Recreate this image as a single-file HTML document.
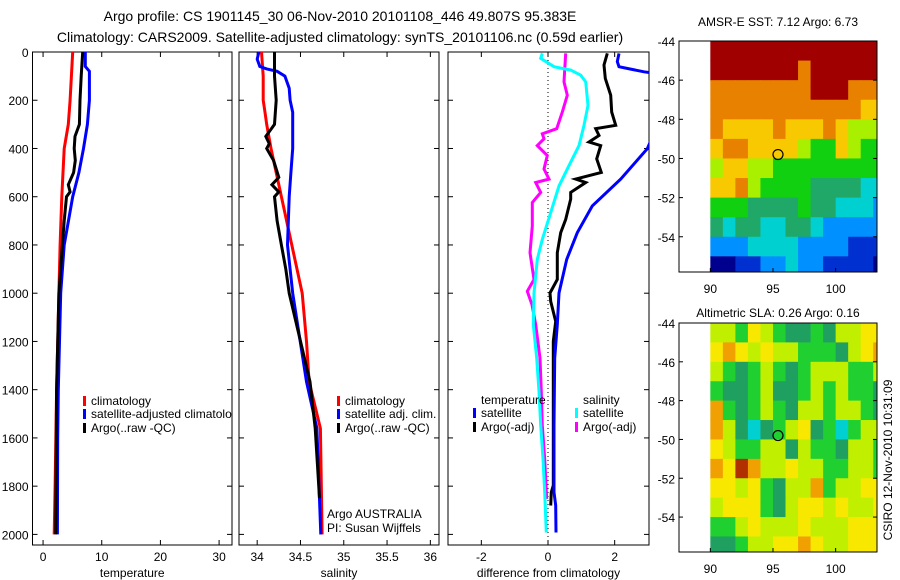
<!DOCTYPE html>
<html><head><meta charset="utf-8"><style>
html,body{margin:0;padding:0;background:#fff;}
svg{display:block;font-family:"Liberation Sans",sans-serif;}
</style></head><body>
<svg id="fig" width="900" height="580" viewBox="0 0 900 580">
<text x="340" y="21" font-size="14" text-anchor="middle">Argo profile: CS 1901145_30 06-Nov-2010 20101108_446 49.807S 95.383E</text>
<text x="340" y="42" font-size="14" text-anchor="middle">Climatology: CARS2009. Satellite-adjusted climatology: synTS_20101106.nc (0.59d earlier)</text>
<text x="778" y="26" font-size="12" text-anchor="middle">AMSR-E SST: 7.12 Argo: 6.73</text>
<text x="778" y="317" font-size="12" text-anchor="middle">Altimetric SLA: 0.26 Argo: 0.16</text>
<text transform="translate(892,460) rotate(-90)" font-size="12" text-anchor="middle">CSIRO 12-Nov-2010 10:31:09</text>
</svg>
<script>
// ---- profile data ----
const tClimDepth = [0,200,300,400,600,800,1000,1400,1800,2000];
const tClimVal   = [5.05,4.6,4.3,3.6,3.2,2.9,2.7,2.3,2.05,1.9];
const tSatDepth  = [0,60,80,200,300,400,500,600,800,1000,1400,1600,2000];
const tSatVal    = [7.2,7.2,7.9,7.9,7.55,6.9,6.1,5.05,3.6,3.0,2.6,2.5,2.45];
const tArgoDepth = [0,100,200,300,350,400,450,500,550,580,600,700,800,1000,1400,2000];
const tArgoVal   = [6.75,6.5,6.3,6.2,5.45,5.3,5.5,5.2,4.3,4.6,4.0,3.6,3.3,2.7,2.3,2.15];

const sClimDepth = [0,100,200,250,300,400,500,600,700,800,900,1000,1200,1367,1560,2000];
const sClimVal   = [34.05,34.07,34.07,34.09,34.11,34.16,34.22,34.28,34.34,34.4,34.46,34.52,34.57,34.6,34.73,34.75];
const sSatDepth  = [0,30,60,70,80,100,150,200,250,400,500,600,800,1000,1367,1560,2000];
const sSatVal    = [34.02,34.0,34.03,34.11,34.23,34.32,34.37,34.38,34.41,34.41,34.39,34.37,34.35,34.41,34.57,34.69,34.735];
const sArgoDepth = [0,100,200,300,350,380,400,450,520,550,580,600,700,800,900,1000,1367,1560,1850];
const sArgoVal   = [34.2,34.2,34.22,34.2,34.10,34.14,34.11,34.19,34.25,34.17,34.25,34.2,34.23,34.28,34.33,34.37,34.61,34.67,34.72];

const dTSatDepth = [6,40,61,71,82,90,150,250,330,401,527,638,749,860,999,1130,1269,1547,1825,1880,1992];
const dTSatVal   = [2.13,2.08,2.13,2.48,2.88,3.3,3.4,3.4,3.2,2.98,2.18,1.33,0.88,0.56,0.33,0.28,0.2,0.18,0.18,0.23,0.24];
const dTArgoDepth= [6,54,110,179,249,304,318,346,373,388,443,499,527,541,582,610,694,749,832,943,999,1034,1117,1200,1408,1797,1825,1880];
const dTArgoVal  = [1.78,1.68,1.72,1.88,1.91,2.03,1.43,1.53,1.23,1.58,1.46,1.6,0.83,1.13,0.68,0.68,0.53,0.38,0.28,0.28,0.06,0.08,0.23,0.16,0.16,0.16,0.1,0.08];
const dSSatDepth = [6,26,61,75,96,124,221,304,388,471,555,666,777,860,999,1130,1269,1408,1547,1686,1825,1992];
const dSSatVal   = [-0.17,-0.22,0.18,0.68,0.98,1.13,1.2,1.08,0.93,0.63,0.33,0.08,-0.17,-0.32,-0.42,-0.44,-0.34,-0.27,-0.22,-0.15,-0.1,-0.05];
const dSArgoDepth= [6,75,124,179,249,318,339,360,388,429,485,527,541,582,624,721,832,943,992,1048,1130,1269,1408,1547,1686,1853];
const dSArgoVal  = [0.53,0.5,0.48,0.58,0.43,0.26,-0.17,-0.12,-0.32,-0.02,-0.12,0.03,-0.37,-0.22,-0.47,-0.47,-0.54,-0.42,-0.62,-0.48,-0.37,-0.24,-0.2,-0.17,-0.1,-0.04];

// ---- map data (1-degree cells, 90..104E, -44..-56) ----
const mapLons = [90,91,92,93,94,95,96,97,98,99,100,101,102,103];
const mapLats = [-44,-45,-46,-47,-48,-49,-50,-51,-52,-53,-54,-55];
const sstGrid = [
 [9,9,9,9,9,9,9,9,9,9,9,9,9,9],
 [9,9,9,9,9,9,9,8,9,9,9,9,9,9],
 [8,8,8,8,8,8,8,8,9,9,9,8,8,8],
 [8,8,8,8,8,8,8,8,8,8,8,8,7,7],
 [8,7,7,7,7,8,7,7,7,8,7,6,6,6],
 [7,8,8,7,7,7,7,6,5,5,7,6,5,5],
 [6,7,7,6,6,5,5,5,5,5,5,5,5,5],
 [7,7,8,6,5,5,5,5,4,4,4,4,3,3],
 [5,5,5,4,4,4,4,5,4,4,3,3,3,2],
 [4,3,4,4,3,3,4,4,3,2,2,2,2,2],
 [2,2,2,3,3,3,3,2,2,2,2,1,1,1],
 [0,0,1,1,2,2,3,2,2,1,1,1,1,0]];
const slaGrid = [
 [6,6,5,7,6,5,4,4,5,4,6,6,7,7],
 [7,8,7,6,7,6,6,5,5,5,4,6,7,8],
 [6,5,4,5,6,5,4,5,6,6,6,5,5,6],
 [5,4,4,5,6,4,4,5,6,5,6,5,5,4],
 [8,5,4,5,6,5,4,6,6,5,6,6,5,4],
 [8,6,4,3,4,5,6,7,4,5,3,5,6,6],
 [7,6,5,5,6,6,4,6,5,5,4,6,6,5],
 [8,7,9,8,6,6,7,6,6,5,5,6,6,5],
 [7,7,6,7,5,4,6,6,8,5,6,6,7,7],
 [6,7,7,7,5,4,6,7,7,6,7,6,6,7],
 [5,5,6,7,6,6,6,7,6,6,6,7,7,7],
 [4,4,5,6,6,7,7,8,7,6,6,7,7,7]];
const argoLon = 95.4, argoLat = -49.8;
const depthTicks = [0,200,400,600,800,1000,1200,1400,1600,1800,2000];
const tTicks = [0,10,20,30];
const sTicks = [34,34.5,35,35.5,36];
const dTicks = [-2,0,2];
const lonTicks = [90,95,100];
const latTicks = [-44,-46,-48,-50,-52,-54];

const NS='http://www.w3.org/2000/svg';
const svg=document.getElementById('fig');
function mk(tag,attrs,parent){const e=document.createElementNS(NS,tag);for(const k in attrs)e.setAttribute(k,attrs[k]);(parent||svg).appendChild(e);return e;}

const Y0=52, YS=0.2412, YB=545;
const yD=d=>Y0+d*YS;
const panels=[
 {x0:32.5,x1:232,min:-1.8,max:32.2,ticks:tTicks,lbl:'temperature',name:'temperature-panel'},
 {x0:239,x1:439,min:33.79,max:36.1,ticks:sTicks,lbl:'salinity',name:'salinity-panel'},
 {x0:448,x1:649,min:-3,max:3.03,ticks:dTicks,lbl:'difference from climatology',name:'difference-panel'}];
panels.forEach((p,i)=>{
  p.sx=v=>p.x0+(v-p.min)/(p.max-p.min)*(p.x1-p.x0);
  const g=mk('g',{});
  
  
  const cp=mk('clipPath',{id:'cp'+i},g);
  mk('rect',{x:p.x0,y:Y0,width:p.x1-p.x0,height:YB-Y0},cp);
  p.g=g;
  const frame=mk('rect',{x:p.x0,y:Y0,width:p.x1-p.x0,height:YB-Y0,fill:'none',stroke:'#000','stroke-width':1},g);
  
  
  depthTicks.forEach(d=>{
    const y=yD(d);
    mk('line',{x1:p.x0,x2:p.x0+5,y1:y,y2:y,stroke:'#000'},g);
    mk('line',{x1:p.x1,x2:p.x1-5,y1:y,y2:y,stroke:'#000'},g);
    if(i===0){const t=mk('text',{x:p.x0-4,y:y+5,'font-size':12,'text-anchor':'end'},g);t.textContent=d;
      
      }
  });
  p.ticks.forEach(v=>{
    const x=p.sx(v);
    mk('line',{x1:x,x2:x,y1:YB,y2:YB-5,stroke:'#000'},g);
    mk('line',{x1:x,x2:x,y1:Y0,y2:Y0+5,stroke:'#000'},g);
    const t=mk('text',{x:x,y:561,'font-size':12,'text-anchor':'middle'},g);t.textContent=v;
    
    
  });
  const xl=mk('text',{x:(p.x0+p.x1)/2,y:577,'font-size':12,'text-anchor':'middle'},g);xl.textContent=p.lbl;
  
  
});
function line(p,idx,depths,vals,color,w,name){
  const pts=depths.map((d,k)=>p.sx(vals[k]).toFixed(1)+','+yD(d).toFixed(1)).join(' ');
  const pl=mk('polyline',{points:pts,fill:'none',stroke:color,'stroke-width':w,'clip-path':'url(#cp'+idx+')'},p.g);
  
  
}
const P=panels;
line(P[0],0,tClimDepth,tClimVal,'#ff0000',3,'temp-climatology-line');
line(P[0],0,tSatDepth,tSatVal,'#0000ff',3,'temp-satellite-line');
line(P[0],0,tArgoDepth,tArgoVal,'#000',3,'temp-argo-line');
line(P[1],1,sClimDepth,sClimVal,'#ff0000',3,'sal-climatology-line');
line(P[1],1,sSatDepth,sSatVal,'#0000ff',3,'sal-satellite-line');
line(P[1],1,sArgoDepth,sArgoVal,'#000',3,'sal-argo-line');
const zl=mk('line',{x1:P[2].sx(0),x2:P[2].sx(0),y1:Y0,y2:YB,stroke:'#000','stroke-dasharray':'1,3'},P[2].g);


line(P[2],2,dSArgoDepth,dSArgoVal,'#ff00ff',3,'diff-sal-argo-line');
line(P[2],2,dSSatDepth,dSSatVal,'#00ffff',3,'diff-sal-satellite-line');
line(P[2],2,dTArgoDepth,dTArgoVal,'#000',3,'diff-temp-argo-line');
line(P[2],2,dTSatDepth,dTSatVal,'#0000ff',3,'diff-temp-satellite-line');

function legend(x,y,color,text,clip){
  const g=mk('g',clip?{'clip-path':clip}:{});
  
  
  if(color) mk('rect',{x:x,y:y-9,width:3,height:10,fill:color},g);
  const t=mk('text',{x:x+8,y:y,'font-size':12},g);t.textContent=text;
}
legend(83,405,'#ff0000','climatology');
legend(83,418,'#0000ff','satellite-adjusted climatology','url(#cp0)');
legend(83,432,'#000','Argo(..raw -QC)');
legend(337,405,'#ff0000','climatology');
legend(337,418,'#0000ff','satellite adj. clim.');
legend(337,432,'#000','Argo(..raw -QC)');
legend(473,404,null,'temperature');
legend(473,417,'#0000ff','satellite');
legend(473,431,'#000','Argo(-adj)');
legend(575,404,null,'salinity');
legend(575,417,'#00ffff','satellite');
legend(575,431,'#ff00ff','Argo(-adj)');
const a1=mk('text',{x:327,y:518,'font-size':12});a1.textContent='Argo AUSTRALIA';


const a2=mk('text',{x:327,y:532,'font-size':12});a2.textContent='PI: Susan Wijffels';



// ---- maps ----
const cmap=['#00008f','#0030d0','#0090ff','#00d0d0','#20a868','#10d010','#a8f000','#f8c800','#e88000','#a00000'];
const cmapSla=['#00008f','#0030d0','#0090ff','#00d0d0','#20a060','#20d030','#c0f000','#f8e800','#f0a000','#b03000'];
function drawMap(top,bottom,grid,cols,name){
  const ax0=679, ax1=877, lonMin=87.5, lonMax=103.3, latMax=-44, latMin=-55.8;
  const sx=l=>ax0+(l-lonMin)/(lonMax-lonMin)*(ax1-ax0);
  const sy=l=>top+(latMax-l)/(latMax-latMin)*(bottom-top);
  const g=mk('g',{});
  
  
  const cid='cm'+name;
  const cp=mk('clipPath',{id:cid},g);
  mk('rect',{x:ax0,y:top,width:ax1-ax0,height:bottom-top},cp);
  const cg=mk('g',{'clip-path':'url(#'+cid+')'},g);
  mapLats.forEach((lat,r)=>mapLons.forEach((lon,c)=>{
    const x=sx(lon), y=sy(lat);
    const rc=mk('rect',{x:x,y:y,width:sx(lon+1)-x+0.5,height:sy(lat-1)-y+0.5,fill:cols[grid[r][c]]},cg);
    
    
  }));
  mk('rect',{x:ax0,y:top,width:ax1-ax0,height:bottom-top,fill:'none',stroke:'#000'},g);
  const ci=mk('ellipse',{cx:sx(argoLon),cy:sy(argoLat),rx:5,ry:5,fill:'none',stroke:'#000','stroke-width':1.2},g);
  
  
  latTicks.forEach(l=>{const y=sy(l);
    mk('line',{x1:ax0,x2:ax0+4,y1:y,y2:y,stroke:'#000'},g);
    mk('line',{x1:ax1,x2:ax1-4,y1:y,y2:y,stroke:'#000'},g);
    const t=mk('text',{x:ax0-4,y:y+5,'font-size':12,'text-anchor':'end'},g);t.textContent=l;
    
    });
  lonTicks.forEach(l=>{const x=sx(l);
    mk('line',{x1:x,x2:x,y1:bottom,y2:bottom-4,stroke:'#000'},g);
    const t=mk('text',{x:x,y:bottom+21,'font-size':12,'text-anchor':'middle'},g);t.textContent=l;
    
    });
}
drawMap(41,272,sstGrid,cmap,'sst-map');
drawMap(323,552,slaGrid,cmapSla,'sla-map');
</script>
</body></html>
